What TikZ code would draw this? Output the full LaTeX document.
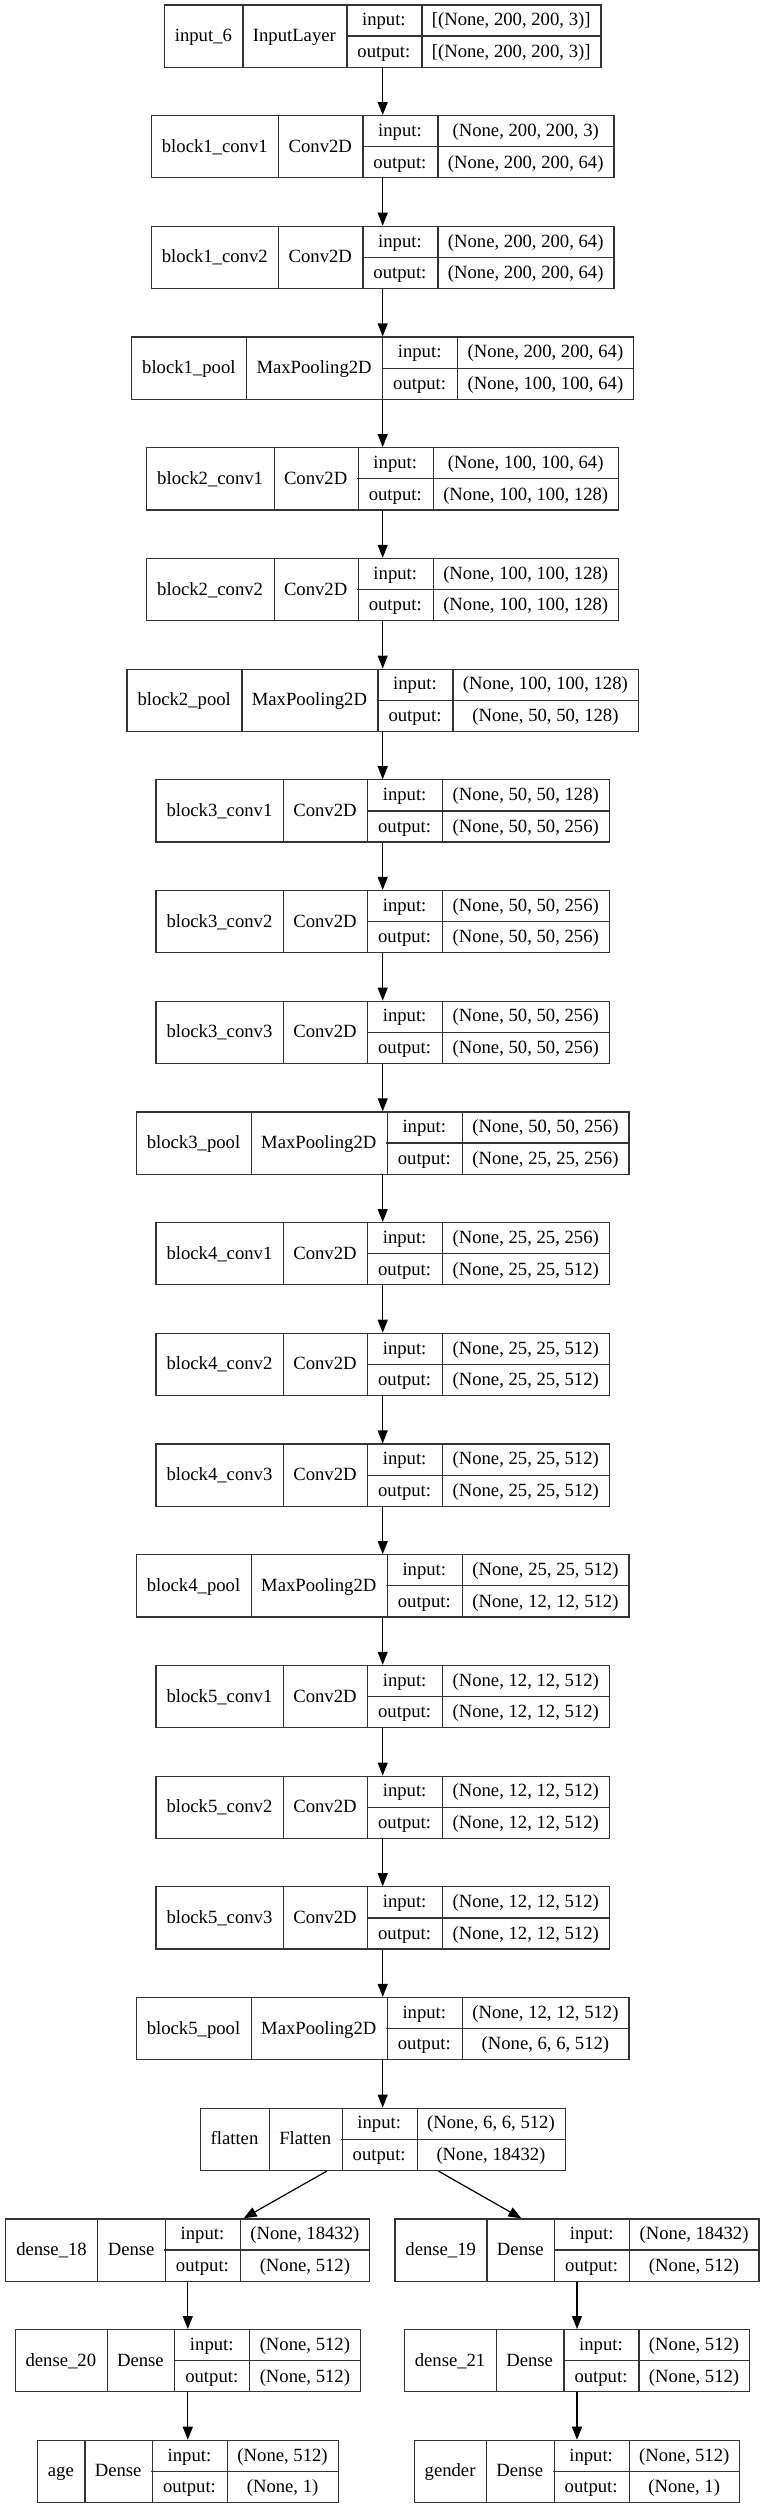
\documentclass[tikz,border=0pt]{standalone}
\usepackage{fontspec}
\setmainfont{Liberation Serif}
\usetikzlibrary{arrows.meta}

\newcommand\cellfont{\fontsize{18.67pt}{22pt}\selectfont}

% one layer: id, center x, row, name, class, input shape, output shape
\newcommand\layer[7]{%
  \matrix[layer, ampersand replacement=\&] (#1) at (#2,{36+110.7*#3}) {
    \node[full] (#1n) {#4}; \&
    \node[full] (#1c) {#5}; \&
    \node[half, minimum width=75pt, anchor=south] (#1i) {input:};
    \node[half, minimum width=75pt, anchor=north] (#1o) {output:}; \&
    \node[half, anchor=south] (#1si) {#6};
    \node[half, anchor=north] (#1so) {#7}; \\
  };
  \draw[rule] (#1n.north east) -- (#1n.south east)
    (#1c.north east) -- (#1c.south east)
    (#1i.north east) -- (#1o.south east)
    (#1i.south west) -- (#1i.south west -| #1.east);
}

\begin{document}
\begin{tikzpicture}[x=1pt,y=-1pt,
  layer/.style={draw=black!80, line width=1.2pt, inner sep=0pt,
    nodes={font=\cellfont, inner xsep=10.5pt, inner ysep=0pt, text height=12pt, text depth=1pt}},
  full/.style={minimum height=61pt},
  half/.style={minimum height=30.5pt},
  rule/.style={draw=black!80, line width=1.2pt},
  arr/.style={-{Triangle[length=13pt,width=10pt]}, line width=1.2pt, black}]
\fill[white] (0,0) rectangle (765,2508);
\useasboundingbox (0,0) rectangle (765,2508);

\layer{input6}{382.7}{0}{input\_6}{InputLayer}{[(None, 200, 200, 3)]}{[(None, 200, 200, 3)]}
\layer{b1conv1}{382.7}{1}{block1\_conv1}{Conv2D}{(None, 200, 200, 3)}{(None, 200, 200, 64)}
\layer{b1conv2}{382.7}{2}{block1\_conv2}{Conv2D}{(None, 200, 200, 64)}{(None, 200, 200, 64)}
\layer{b1pool}{382.7}{3}{block1\_pool}{MaxPooling2D}{(None, 200, 200, 64)}{(None, 100, 100, 64)}
\layer{b2conv1}{382.7}{4}{block2\_conv1}{Conv2D}{(None, 100, 100, 64)}{(None, 100, 100, 128)}
\layer{b2conv2}{382.7}{5}{block2\_conv2}{Conv2D}{(None, 100, 100, 128)}{(None, 100, 100, 128)}
\layer{b2pool}{382.7}{6}{block2\_pool}{MaxPooling2D}{(None, 100, 100, 128)}{(None, 50, 50, 128)}
\layer{b3conv1}{382.7}{7}{block3\_conv1}{Conv2D}{(None, 50, 50, 128)}{(None, 50, 50, 256)}
\layer{b3conv2}{382.7}{8}{block3\_conv2}{Conv2D}{(None, 50, 50, 256)}{(None, 50, 50, 256)}
\layer{b3conv3}{382.7}{9}{block3\_conv3}{Conv2D}{(None, 50, 50, 256)}{(None, 50, 50, 256)}
\layer{b3pool}{382.7}{10}{block3\_pool}{MaxPooling2D}{(None, 50, 50, 256)}{(None, 25, 25, 256)}
\layer{b4conv1}{382.7}{11}{block4\_conv1}{Conv2D}{(None, 25, 25, 256)}{(None, 25, 25, 512)}
\layer{b4conv2}{382.7}{12}{block4\_conv2}{Conv2D}{(None, 25, 25, 512)}{(None, 25, 25, 512)}
\layer{b4conv3}{382.7}{13}{block4\_conv3}{Conv2D}{(None, 25, 25, 512)}{(None, 25, 25, 512)}
\layer{b4pool}{382.7}{14}{block4\_pool}{MaxPooling2D}{(None, 25, 25, 512)}{(None, 12, 12, 512)}
\layer{b5conv1}{382.7}{15}{block5\_conv1}{Conv2D}{(None, 12, 12, 512)}{(None, 12, 12, 512)}
\layer{b5conv2}{382.7}{16}{block5\_conv2}{Conv2D}{(None, 12, 12, 512)}{(None, 12, 12, 512)}
\layer{b5conv3}{382.7}{17}{block5\_conv3}{Conv2D}{(None, 12, 12, 512)}{(None, 12, 12, 512)}
\layer{b5pool}{382.7}{18}{block5\_pool}{MaxPooling2D}{(None, 12, 12, 512)}{(None, 6, 6, 512)}
\layer{flatten}{382.7}{19}{flatten}{Flatten}{(None, 6, 6, 512)}{(None, 18432)}

% two heads
\layer{dense18}{187.8}{20}{dense\_18}{Dense}{(None, 18432)}{(None, 512)}
\layer{dense20}{187.8}{21}{dense\_20}{Dense}{(None, 512)}{(None, 512)}
\layer{age}{187.8}{22}{age}{Dense}{(None, 512)}{(None, 1)}
\layer{dense19}{577}{20}{dense\_19}{Dense}{(None, 18432)}{(None, 512)}
\layer{dense21}{577}{21}{dense\_21}{Dense}{(None, 512)}{(None, 512)}
\layer{gender}{577}{22}{gender}{Dense}{(None, 512)}{(None, 1)}

\draw[arr] (input6) -- (b1conv1);
\draw[arr] (b1conv1) -- (b1conv2);
\draw[arr] (b1conv2) -- (b1pool);
\draw[arr] (b1pool) -- (b2conv1);
\draw[arr] (b2conv1) -- (b2conv2);
\draw[arr] (b2conv2) -- (b2pool);
\draw[arr] (b2pool) -- (b3conv1);
\draw[arr] (b3conv1) -- (b3conv2);
\draw[arr] (b3conv2) -- (b3conv3);
\draw[arr] (b3conv3) -- (b3pool);
\draw[arr] (b3pool) -- (b4conv1);
\draw[arr] (b4conv1) -- (b4conv2);
\draw[arr] (b4conv2) -- (b4conv3);
\draw[arr] (b4conv3) -- (b4pool);
\draw[arr] (b4pool) -- (b5conv1);
\draw[arr] (b5conv1) -- (b5conv2);
\draw[arr] (b5conv2) -- (b5conv3);
\draw[arr] (b5conv3) -- (b5pool);
\draw[arr] (b5pool) -- (flatten);
\draw[arr] (flatten) -- (dense18);
\draw[arr] (flatten) -- (dense19);
\draw[arr] (dense18) -- (dense20);
\draw[arr] (dense20) -- (age);
\draw[arr] (dense19) -- (dense21);
\draw[arr] (dense21) -- (gender);
\end{tikzpicture}
\end{document}
